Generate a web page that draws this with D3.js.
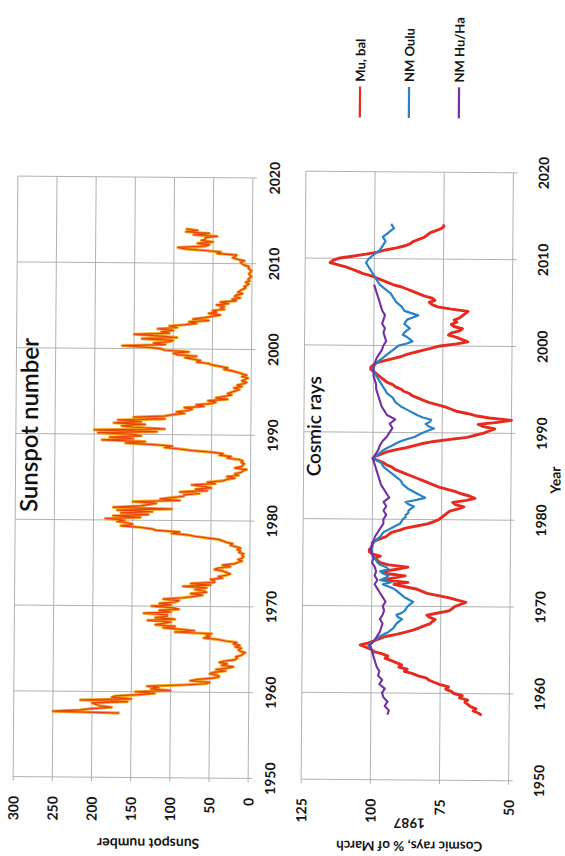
<!DOCTYPE html>
<html>
<head>
<meta charset="utf-8">
<script src="https://cdn.jsdelivr.net/npm/d3@7"></script>
<style>
  html, body { margin: 0; padding: 0; background: #ffffff; }
  svg { display: block; }
</style>
</head>
<body>
<script>
// Sunspot number, sampled every two months from mid-1957
const sunspotStart = 1957.5;
const sunspotStep = 1 / 6;
const sunspot = [
  165, 250, 215,
  200, 175, 190, 195, 200, 155,
  215, 150, 175, 170, 140, 120,
  145, 100, 125, 115, 130, 85,
  55, 50, 75, 65, 45, 38,
  40, 50, 45, 30, 42, 28,
  20, 35, 28, 38, 30, 18,
  15, 17, 10, 8, 5, 12,
  14, 10, 18, 12, 20, 16,
  30, 40, 58, 50, 55, 48,
  95, 70, 90, 110, 95, 120,
  110, 100, 130, 95, 120, 105,
  105, 135, 100, 115, 90, 100,
  125, 100, 115, 95, 90, 110,
  85, 70, 60, 75, 55, 60,
  70, 55, 85, 50, 75, 45,
  45, 50, 35, 40, 30, 25,
  30, 35, 45, 40, 25, 35,
  20, 15, 10, 15, 10, 8,
  10, 8, 14, 12, 16, 12,
  18, 25, 22, 30, 35, 40,
  55, 70, 80, 100, 90, 120,
  125, 140, 165, 150, 155, 170,
  160, 185, 140, 175, 130, 165,
  125, 170, 100, 175, 140, 130,
  120, 150, 90, 115, 100, 85,
  85, 65, 90, 55, 70, 50,
  60, 75, 45, 55, 35, 30,
  20, 30, 15, 20, 12, 10,
  5, 20, 12, 10, 8, 12,
  10, 15, 30, 25, 40, 35,
  50, 75, 90, 110, 100, 125,
  160, 135, 190, 150, 180, 140,
  150, 195, 120, 200, 110, 150,
  165, 135, 175, 140, 170, 110,
  150, 110, 100, 85, 95, 80,
  75, 85, 60, 70, 50, 45,
  55, 30, 45, 35, 25, 30,
  25, 20, 15, 22, 12, 18,
  10, 6, 12, 8, 4, 12,
  6, 12, 18, 25, 35, 30,
  40, 50, 55, 70, 65, 75,
  85, 70, 95, 100, 80, 110,
  115, 130, 165, 110, 125, 105,
  100, 140, 95, 120, 150, 105,
  115, 100, 120, 95, 105, 85,
  70, 80, 55, 75, 60, 50,
  40, 55, 45, 50, 35, 40,
  35, 45, 30, 40, 20, 25,
  15, 22, 20, 12, 18, 15,
  12, 8, 10, 6, 4, 8,
  3, 5, 3, 1, 3, 4,
  2, 1, 3, 5, 4, 10,
  13, 15, 10, 18, 25, 22,
  20, 45, 40, 60, 85, 95,
  60, 55, 70, 50, 65, 60,
  60, 45, 75, 55, 85, 70,
  85
];

// Cosmic ray intensity, % of March 1987
// Mu, bal and NM Oulu every quarter year, NM Hu/Ha every half year
const muBalStart = 1957.5, muBalStep = 0.25;
const muBal = [
  60, 61,
  63, 62, 64, 65,
  66, 65, 68, 67,
  70, 71, 73, 72,
  75, 77, 79, 80,
  83, 85, 88, 87,
  90, 89, 91, 93,
  95, 94, 96, 99,
  100, 102, 104, 101,
  99, 97, 95, 91,
  88, 85, 83, 81,
  79, 78, 77, 79,
  80, 76, 72, 71,
  70, 68, 66, 69,
  72, 76, 80, 82,
  84, 88, 92, 87,
  96, 92, 88, 95,
  96, 91, 87, 94,
  97, 98, 99, 97,
  100, 101, 101, 100,
  100, 100, 99, 97,
  95, 94, 93, 90,
  88, 84, 80, 78,
  76, 75, 74, 73,
  72, 69, 67, 70,
  71, 66, 63, 65,
  68, 70, 73, 76,
  78, 80, 82, 84,
  86, 88, 90, 92,
  93, 95, 96, 98,
  100, 99, 97, 95,
  92, 88, 85, 82,
  78, 72, 66, 63,
  60, 58, 56, 60,
  62, 55, 50, 58,
  63, 66, 70, 72,
  74, 77, 80, 82,
  84, 86, 87, 89,
  90, 92, 93, 95,
  96, 97, 98, 99,
  100, 101, 101, 100,
  99, 96, 93, 90,
  88, 85, 82, 79,
  76, 70, 66, 68,
  70, 73, 72, 69,
  68, 71, 72, 70,
  71, 69, 68, 67,
  66, 72, 77, 79,
  80, 78, 79, 82,
  84, 86, 88, 90,
  93, 95, 97, 99,
  101, 104, 106, 108,
  110, 113, 116, 115,
  113, 108, 103, 99,
  96, 92, 89, 87,
  86, 84, 82, 81,
  80, 78, 76, 75,
  75
];

const ouluStart = 1964.5, ouluStep = 0.25;
const oulu = [
  99, 99.5,
  100, 100.5, 101, 100,
  99, 98, 97, 95.5,
  94, 93, 92, 91.5,
  91, 90, 89, 90.5,
  91, 89, 88, 87.5,
  87, 86, 85, 86.5,
  88, 89, 90, 91,
  92, 94, 96, 93,
  97, 95, 94, 96,
  97, 94, 95, 97,
  98, 98.5, 99, 99.5,
  100, 100, 100, 100.5,
  100, 99.5, 99, 98,
  97, 96.5, 96, 94.5,
  93, 91.5, 90, 89.5,
  89, 88, 88, 87,
  87, 86, 85, 87,
  88, 84, 81, 82.5,
  84, 85.5, 87, 88,
  89, 89.5, 90, 91,
  92, 93, 94, 95,
  96, 96.5, 97, 98.5,
  100, 99, 98, 97,
  96, 94.5, 93, 91.5,
  90, 87.5, 85, 83.5,
  82, 80, 78, 80,
  81, 79.5, 79, 82,
  84, 85.5, 87, 88.5,
  90, 91, 92, 92.5,
  93, 94, 95, 95.5,
  96, 96.5, 97, 97.5,
  98, 98.5, 99, 99.5,
  100, 100, 100, 99.5,
  99, 98, 97, 96,
  95, 94, 93, 92,
  91, 88, 86, 87,
  88, 89.5, 89, 88,
  87, 88, 89, 88.5,
  88, 86, 84, 86.5,
  89, 89.5, 90, 91,
  92, 92.5, 93, 93.5,
  94, 95, 96, 97,
  98, 98.5, 99, 99.5,
  100, 100.5, 101, 101.5,
  102, 102.5, 103, 102.5,
  102, 101, 100, 99,
  98, 97.5, 97, 96.5,
  96, 96.5, 97, 96,
  95, 94, 93, 93.5,
  94
];

const huhaStart = 1957.5, huhaStep = 0.5;
const huha = [
  94,
  93.5, 95, 94, 95.5, 96, 95, 97, 96, 97.5, 97,
  98, 98.5, 99, 99.5, 100, 100.5, 99, 98, 97, 96.5,
  96, 97, 96, 95.5, 96, 95, 96, 97, 98, 99,
  98, 99, 98.5, 99, 100, 99.5, 100, 100.5, 100, 99.5,
  99, 98, 97, 96, 96, 95, 96, 95, 96, 94,
  95, 96, 97, 97.5, 98, 98.5, 99, 99.5, 100, 99,
  98, 97.5, 96.5, 95, 94, 93, 94, 92, 95, 96,
  97, 97.5, 98, 98.5, 99, 99, 99.5, 100, 100, 100,
  99.5, 99, 98, 97, 96.5, 95.5, 96, 96.5, 96, 97,
  96.5, 96, 97, 97.5, 98, 98.5, 99, 99.5, 100
];

const yearTicks = [1950, 1960, 1970, 1980, 1990, 2000, 2010, 2020];
const sunspotTicks = [0, 50, 100, 150, 200, 250, 300];
const cosmicTicks = [50, 75, 100, 125];
const seriesNames = ["Mu, bal", "NM Oulu", "NM Hu/Ha"];
const seriesColors = ["#e62a1e", "#2683c6", "#7330a3"];

const W = 565, H = 856;
const FONT = "Lato, 'Open Sans', 'DejaVu Sans', sans-serif";

const svg = d3.select("body").append("svg")
  .attr("width", W).attr("height", H);
svg.append("rect").attr("width", W).attr("height", H).attr("fill", "#ffffff");

// The sheet sits a touch tilted; the chart itself is laid out landscape and turned upright
const tilt = svg.append("g").attr("transform", "rotate(0.45,283,477)");
const g = tilt.append("g").attr("transform", `translate(0,${H}) rotate(-90)`);

const toSeries = (start, step, arr) => arr.map((v, i) => ({ t: start + i * step, v }));

function panel(xScale, yScale, yTicks) {
  const [x0, x1] = xScale.range();
  const [yb, yt] = yScale.range();
  const grid = g.append("g").attr("stroke", "#a9a9a9").attr("stroke-width", 0.9).attr("fill", "none");
  grid.selectAll("line.v").data(yearTicks).join("line")
    .attr("x1", d => xScale(d)).attr("x2", d => xScale(d))
    .attr("y1", yt).attr("y2", yb + 4);
  grid.selectAll("line.h").data(yTicks).join("line")
    .attr("x1", x0 - 4).attr("x2", x1)
    .attr("y1", d => yScale(d)).attr("y2", d => yScale(d));
}

function valueLabels(yScale, ticks) {
  g.append("g").selectAll("text").data(ticks).join("text")
    .attr("x", 58).attr("y", d => yScale(d))
    .attr("text-anchor", "end").attr("dominant-baseline", "central")
    .attr("font-family", FONT).attr("font-weight", 700).attr("font-size", 14)
    .attr("fill", "#151515").text(d => d);
}

function yearLabels(xScale, y) {
  g.append("g").selectAll("text").data(yearTicks).join("text")
    .attr("x", d => xScale(d)).attr("y", y)
    .attr("text-anchor", "middle").attr("dominant-baseline", "central")
    .attr("font-family", FONT).attr("font-weight", 700).attr("font-size", 14)
    .attr("fill", "#151515").text(d => d);
}

// ---- Sunspot panel ----
const xS = d3.scaleLinear().domain([1950, 2020]).range([77.3, 677.8]);
const yS = d3.scaleLinear().domain([0, 300]).range([250.5, 15.5]);
panel(xS, yS, sunspotTicks);
valueLabels(yS, sunspotTicks);
yearLabels(xS, 272);

const sunLine = d3.line().x(d => xS(d.t)).y(d => yS(d.v));
const sunData = toSeries(sunspotStart, sunspotStep, sunspot);
g.append("path").datum(sunData).attr("d", sunLine)
  .attr("fill", "none").attr("stroke", "#f6a51e").attr("stroke-width", 3)
  .attr("stroke-linejoin", "round");
g.append("path").datum(sunData).attr("d", sunLine)
  .attr("fill", "none").attr("stroke", "#e9420f").attr("stroke-width", 1.2)
  .attr("stroke-linejoin", "round");

g.append("text").attr("x", 429).attr("y", 28)
  .attr("text-anchor", "middle").attr("dominant-baseline", "central")
  .attr("font-family", FONT).attr("font-size", 24).attr("font-weight", 600)
  .attr("fill", "#111").text("Sunspot number");

g.append("text")
  .attr("transform", "translate(11,151) rotate(-90)")
  .attr("text-anchor", "middle").attr("dominant-baseline", "central")
  .attr("font-family", FONT).attr("font-weight", 700).attr("font-size", 14)
  .attr("fill", "#151515").text("Sunspot number");

// ---- Cosmic ray panel ----
const xC = d3.scaleLinear().domain([1950, 2020]).range([77, 685]);
const yC = d3.scaleLinear().domain([50, 125]).range([511, 303.5]);
panel(xC, yC, cosmicTicks);
valueLabels(yC, cosmicTicks);
yearLabels(xC, 541);

const cLine = d3.line().x(d => xC(d.t)).y(d => yC(d.v));
const cosmicSets = [
  toSeries(muBalStart, muBalStep, muBal),
  toSeries(ouluStart, ouluStep, oulu),
  toSeries(huhaStart, huhaStep, huha)
];
const widths = [2.9, 2.2, 2.1];
cosmicSets.forEach((s, i) => {
  g.append("path").datum(s).attr("d", cLine)
    .attr("fill", "none").attr("stroke", seriesColors[i])
    .attr("stroke-width", widths[i]).attr("stroke-linejoin", "round");
});

g.append("text").attr("x", 430).attr("y", 313)
  .attr("text-anchor", "middle").attr("dominant-baseline", "central")
  .attr("font-family", FONT).attr("font-size", 19).attr("font-weight", 600)
  .attr("fill", "#111").text("Cosmic rays");

const cTitle = g.append("text")
  .attr("transform", "translate(11,412) rotate(-90)")
  .attr("text-anchor", "middle")
  .attr("font-family", FONT).attr("font-weight", 700).attr("font-size", 13.5)
  .attr("fill", "#151515");
cTitle.append("tspan").attr("x", 0).attr("dy", "0.35em").text("Cosmic rays, % of March");
cTitle.append("tspan").attr("x", 0).attr("dy", 23).text("1987");

g.append("text").attr("x", 378).attr("y", 555)
  .attr("text-anchor", "middle").attr("dominant-baseline", "central")
  .attr("font-family", FONT).attr("font-weight", 700).attr("font-size", 14)
  .attr("fill", "#151515").text("Year");

// ---- Legend ----
const legendY = [357, 406, 456];
const leg = g.append("g").selectAll("g").data(seriesNames).join("g")
  .attr("transform", (d, i) => `translate(0,${legendY[i]})`);
leg.append("line").attr("x1", 739).attr("x2", 770).attr("y1", 0).attr("y2", 0)
  .attr("stroke", (d, i) => seriesColors[i]).attr("stroke-width", 2.2);
leg.append("text").attr("x", 775).attr("y", 0)
  .attr("dominant-baseline", "central")
  .attr("font-family", FONT).attr("font-weight", 700).attr("font-size", 13)
  .attr("fill", "#151515").text(d => d);
</script>
</body>
</html>
